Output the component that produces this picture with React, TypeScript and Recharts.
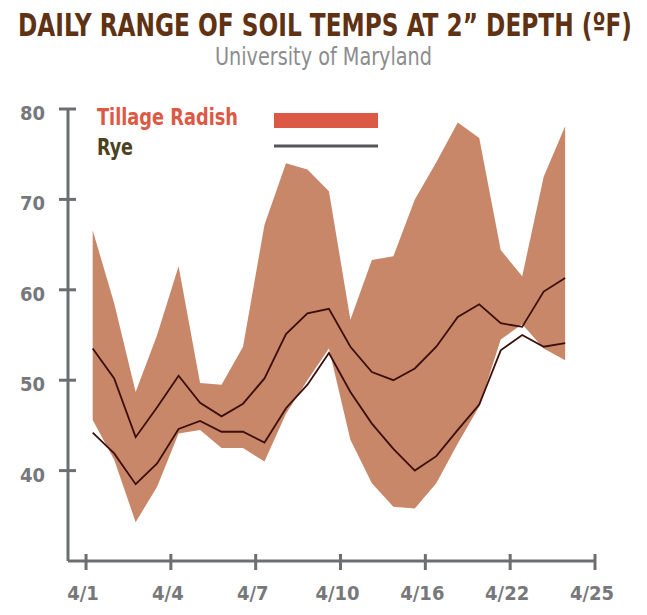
import React from "react";
import {
  ComposedChart,
  Area,
  Line,
  XAxis,
  YAxis,
} from "recharts";

// one point per day
const days = [0, 1, 2, 3, 4, 5, 6, 7, 8, 9, 10, 11, 12, 13, 14, 15, 16, 17, 18, 19, 20, 21, 22];
const radishHigh = [66.6, 58.5, 48.7, 55.0, 62.6, 49.7, 49.5, 53.7, 67.2, 74.0, 73.3, 70.9, 56.7, 63.3, 63.7, 70.0, 74.1, 78.5, 76.8, 64.4, 61.5, 72.5, 78.1];
const radishLow = [45.6, 41.2, 34.3, 38.2, 44.1, 44.5, 42.5, 42.5, 41.0, 46.3, 50.0, 53.5, 43.4, 38.6, 36.0, 35.8, 38.6, 43.0, 47.1, 54.5, 56.2, 53.5, 52.2];
const ryeHigh = [53.5, 50.2, 43.7, 47.0, 50.5, 47.5, 46.0, 47.4, 50.2, 55.1, 57.4, 57.9, 53.7, 50.9, 50.0, 51.3, 53.7, 57.0, 58.4, 56.3, 55.9, 59.8, 61.3];
const ryeLow = [44.2, 41.9, 38.5, 40.8, 44.6, 45.5, 44.3, 44.3, 43.1, 46.9, 49.5, 53.0, 48.7, 45.2, 42.4, 40.0, 41.6, 44.5, 47.3, 53.3, 55.0, 53.7, 54.1];

const xTickLabels = ["4/1", "4/4", "4/7", "4/10", "4/16", "4/22", "4/25"];
const xTickPos = xTickLabels.map((_, k) => -0.31 + k * 3.95);
const yTicks = [40, 50, 60, 70, 80];

const data = days.map((d, i) => ({
  day: d,
  radish: [radishLow[i], radishHigh[i]],
  ryeHigh: ryeHigh[i],
  ryeLow: ryeLow[i],
}));

const AXIS = "#6d6e71";
const LABEL = "#77787b";
const FONT = "'Liberation Sans Narrow', 'DejaVu Sans Condensed', 'Roboto', sans-serif";

const XTick = (props: any) => {
  const { x, y, index } = props;
  return (
    <g>
      <line x1={x} x2={x} y1={y - 7} y2={y + 9} stroke={AXIS} strokeWidth={3} />
      <text
        x={x - 3}
        y={y + 39}
        textAnchor="middle"
        fill={LABEL}
        fontFamily={FONT}
        fontWeight="bold"
        fontSize={20}
      >
        {xTickLabels[index]}
      </text>
    </g>
  );
};

const YTick = (props: any) => {
  const { x, y, payload } = props;
  return (
    <g>
      <line x1={x - 9} x2={x + 8} y1={y} y2={y} stroke={AXIS} strokeWidth={3} />
      <text
        x={x - 23}
        y={y + 11}
        textAnchor="end"
        fill={LABEL}
        fontFamily={FONT}
        fontWeight="bold"
        fontSize={20}
      >
        {payload.value}
      </text>
    </g>
  );
};

export default function App() {
  return (
    <div style={{ position: "absolute", left: 0, top: 0, width: 647, height: 615, background: "#fff" }}>
      <svg width={647} height={160} style={{ position: "absolute", left: 0, top: 0 }}>
        <text
          x={18}
          y={36}
          textLength={614}
          lengthAdjust="spacingAndGlyphs"
          fill="#5e3213"
          fontFamily={FONT}
          fontWeight="bold"
          fontSize={32}
        >
          DAILY RANGE OF SOIL TEMPS AT 2” DEPTH (ºF)
        </text>
        <text
          x={215}
          y={65}
          textLength={217}
          lengthAdjust="spacingAndGlyphs"
          fill="#8c8c8e"
          fontFamily={FONT}
          fontSize={24}
        >
          University of Maryland
        </text>
        <text
          x={97}
          y={125}
          textLength={141}
          lengthAdjust="spacingAndGlyphs"
          fill="#dc5a45"
          fontFamily={FONT}
          fontWeight="bold"
          fontSize={23}
        >
          Tillage Radish
        </text>
        <rect x={274} y={113} width={104} height={15} fill="#dc5a45" />
        <text
          x={97}
          y={155}
          textLength={36}
          lengthAdjust="spacingAndGlyphs"
          fill="#4a4220"
          fontFamily={FONT}
          fontWeight="bold"
          fontSize={23}
        >
          Rye
        </text>
        <line x1={274} x2={378} y1={146} y2={146} stroke="#555558" strokeWidth={3} />
      </svg>
      <div style={{ position: "absolute", left: 0, top: 0 }}>
        <ComposedChart
          width={647}
          height={615}
          data={data}
          margin={{ top: 109, right: 52, bottom: 24, left: 8 }}
        >
          <XAxis
            dataKey="day"
            type="number"
            domain={[-1.15, 23.39]}
            ticks={xTickPos}
            allowDataOverflow
            height={30}
            tickLine={false}
            tickSize={0}
            tickMargin={0}
            axisLine={{ stroke: AXIS, strokeWidth: 3 }}
            tick={XTick}
            interval={0}
          />
          <YAxis
            type="number"
            domain={[30, 80]}
            ticks={yTicks}
            width={60}
            tickLine={false}
            tickSize={0}
            tickMargin={0}
            axisLine={{ stroke: AXIS, strokeWidth: 3 }}
            tick={YTick}
            interval={0}
          />
          <Area
            type="linear"
            dataKey="radish"
            fill="#c9876a"
            fillOpacity={1}
            stroke="none"
            isAnimationActive={false}
          />
          <Line
            type="linear"
            dataKey="ryeHigh"
            stroke="#3b0f0a"
            strokeWidth={1.8}
            dot={false}
            isAnimationActive={false}
          />
          <Line
            type="linear"
            dataKey="ryeLow"
            stroke="#3b0f0a"
            strokeWidth={1.8}
            dot={false}
            isAnimationActive={false}
          />
        </ComposedChart>
      </div>
    </div>
  );
}
